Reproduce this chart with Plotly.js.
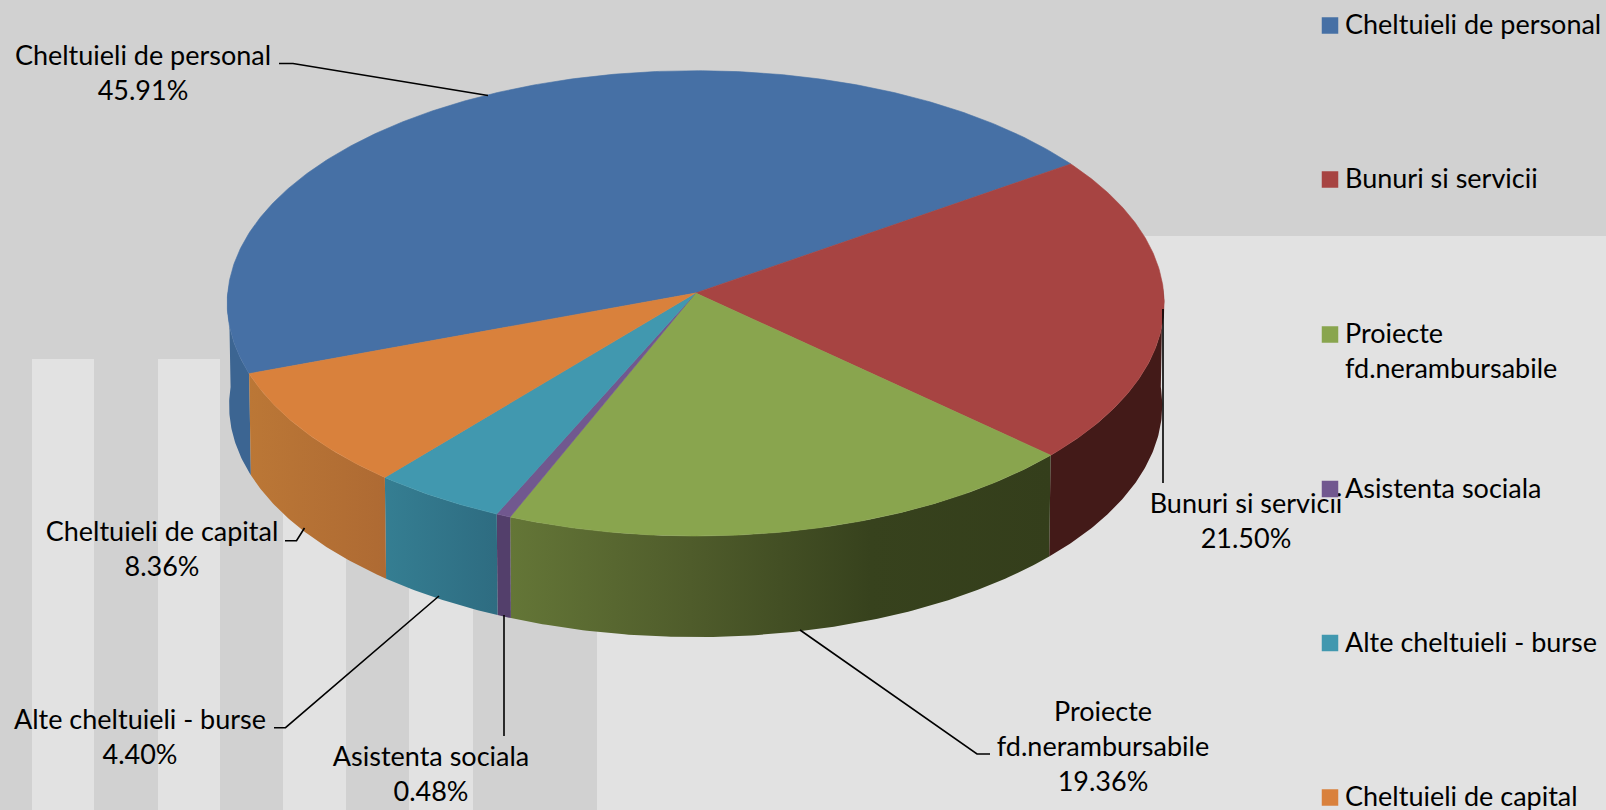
<!DOCTYPE html>
<html><head><meta charset="utf-8">
<script src="https://cdn.plot.ly/plotly-3.0.1.min.js"></script>
<style>html,body{margin:0;padding:0;background:#d1d1d1;overflow:hidden}#c{width:1606px;height:810px}</style>
</head><body><div id="c"></div>
<script>
// ---- data ----
const categories = ['Cheltuieli de personal','Bunuri si servicii','Proiecte fd.nerambursabile','Asistenta sociala','Alte cheltuieli - burse','Cheltuieli de capital'];
const values = [45.91,21.50,19.36,0.48,4.40,8.36];
const topColors = ['#4670a5','#a74442','#89a54e','#71588f','#4198af','#d9813c'];
const wallColors = [['#3c6592','#3c6592'],['#431a18','#431a18'],['#647637','#4f5c2b','#37421d','#343e1b'],['#533f6b','#533f6b'],['#357e92','#2e6c81'],['#bb7736','#ae6a33']];
const labelLines = [['Cheltuieli de personal'],['Bunuri si servicii'],['Proiecte','fd.nerambursabile'],['Asistenta sociala'],['Alte cheltuieli - burse'],['Cheltuieli de capital']];

// ---- layout constants ----
const W=1606,H=810,FONT='Lato, sans-serif',FS=27;
const cx=695.7,cy=293,b=468,a=232.2,k=0.0445,depth=102,shrink=0.996,firstAngle=250;
const labelPos=[[143,76],[1246,524],[1103,749],[431,777],[140,739.5],[162,552]];
const legendX=1330,legendTextX=1345,legendY=[25.5,179.5,334.5,489,643,797.5];
const leaders=[[[279,63.5],[293,63.5],[488,95.5]],[[1163,309],[1163,483]],[[800,630],[977,754],[990,754]],[[504,615],[504,736]],[[439,596],[285.5,727.7],[274,727.7]],[[304.5,528],[296.5,540.7],[285,540.7]]];
const stripes=[[32,94],[158,220],[283,346],[409,473]];

function pt(theta,low){
  const t=theta*Math.PI/180,X=Math.sin(t),Y=-Math.cos(t),p=1-k*Y,s=low?shrink:1;
  return [cx+b*s*X/p,cy+(low?depth:0)+a*s*Y/p];
}
function arc(from,to,low){
  const n=Math.max(2,Math.ceil(Math.abs(to-from)*2)),o=[];
  for(let i=0;i<=n;i++)o.push(pt(from+(to-from)*i/n,low));
  return o;
}
const total=values.reduce((s,v)=>s+v,0);
let ang=firstAngle;
const spans=values.map(v=>{const s=ang,e=ang+v/total*360;ang=e;return [s,e];});
const traces=[];
function poly(pts,opt){
  traces.push(Object.assign({type:'scatter',x:pts.map(p=>p[0]),y:pts.map(p=>p[1]),fill:'toself',mode:'lines',hoverinfo:'skip',showlegend:false},opt));
}
// side walls: front-facing part of each slice (angles 88..272 clockwise from the top)
function wall(from,to,i){
  if(to<=from)return;
  const cs=wallColors[i],scale=cs.map((c,j)=>[j/(cs.length-1),c]);
  const pts=arc(from,to,false).concat(arc(to,from,true));
  poly(pts,{line:{width:0,color:cs[0]},fillgradient:{type:'horizontal',colorscale:scale}});
}
spans.forEach(([s,e],i)=>{
  for(const off of [0,-360]){
    const f=Math.max(s+off,88),t=Math.min(e+off,272);
    wall(f,t,i);
  }
});
// top faces
spans.forEach(([s,e],i)=>{
  poly([[cx,cy]].concat(arc(s,e,false)).concat([[cx,cy]]),{line:{width:0.6,color:topColors[i]},fillcolor:topColors[i]});
});
// leader lines
leaders.forEach(l=>traces.push({type:'scatter',mode:'lines',x:l.map(p=>p[0]),y:l.map(p=>p[1]),line:{color:'#000',width:1.6},hoverinfo:'skip',showlegend:false}));
// data labels
const textFont={family:FONT,size:FS,color:'#000'};
traces.push({type:'scatter',mode:'text',x:labelPos.map(p=>p[0]),y:labelPos.map(p=>p[1]),
  text:values.map((v,i)=>labelLines[i].concat([v.toFixed(2)+'%']).join('<br>')),textposition:'middle center',textfont:textFont,hoverinfo:'skip',showlegend:false});
// legend
traces.push({type:'scatter',mode:'text',x:legendY.map(()=>legendTextX),y:legendY.map((y,i)=>y+(labelLines[i].length-1)*17.5+2),
  text:labelLines.map(l=>l.join('<br>')),textposition:'middle right',textfont:textFont,hoverinfo:'skip',showlegend:false});
traces.push({type:'scatter',mode:'markers',x:legendY.map(()=>legendX),y:legendY,marker:{symbol:'square',size:16.5,color:topColors,line:{width:0}},hoverinfo:'skip',showlegend:false});

const rect=(x0,x1,y0,y1,c)=>({type:'rect',layer:'below',xref:'x',yref:'y',x0,x1,y0,y1,fillcolor:c,line:{width:0}});
const shapes=[rect(597,W,236,H,'#e2e2e2')].concat(stripes.map(s=>rect(s[0],s[1],359,H,'#e2e2e2')));
Plotly.newPlot('c',traces,{
  width:W,height:H,margin:{l:0,r:0,t:0,b:0},paper_bgcolor:'#d1d1d1',plot_bgcolor:'rgba(0,0,0,0)',showlegend:false,
  xaxis:{range:[0,W],visible:false,fixedrange:true},yaxis:{range:[H,0],visible:false,fixedrange:true},shapes
},{displayModeBar:false,staticPlot:true});
</script></body></html>
